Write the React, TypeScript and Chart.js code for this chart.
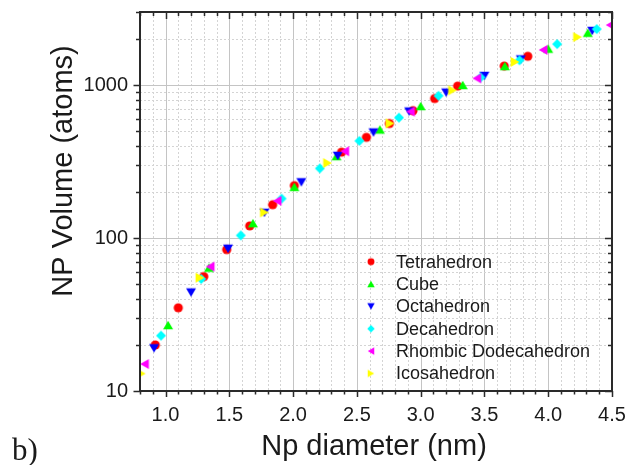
import React, { useEffect, useRef } from 'react';
import { Chart, registerables } from 'chart.js';

Chart.register(...registerables);

// ---- data ----
const seriesNames = ['Tetrahedron', 'Cube', 'Octahedron', 'Decahedron', 'Rhombic Dodecahedron', 'Icosahedron'];
const seriesColors = ['#ff0000', '#00ff00', '#0000ff', '#00ffff', '#ff00ff', '#ffff00'];
const seriesShapes = ['circle', 'up', 'down', 'diamond', 'left', 'right'];

const tetraX = [0.92, 1.10, 1.30, 1.48, 1.66, 1.84, 2.01, 2.38, 2.575, 2.755, 2.94, 3.11, 3.29, 3.655, 3.84];
const tetraY = [20, 35, 56, 84, 120, 165, 220, 364, 455, 560, 680, 816, 984, 1330, 1540];

const cubeX = [1.02, 1.34, 1.685, 2.01, 2.34, 2.68, 3.0, 3.33, 3.66, 4.0, 4.31];
const cubeY = [27, 64, 125, 216, 343, 512, 729, 1000, 1331, 1728, 2197];

const octaX = [0.91, 1.20, 1.49, 1.775, 2.065, 2.35, 2.63, 2.91, 3.20, 3.50, 3.785, 4.345];
const octaY = [19, 44, 85, 146, 231, 344, 489, 670, 891, 1146, 1469, 2255];

const decaX = [0.965, 1.28, 1.59, 1.91, 2.21, 2.52, 2.83, 3.14, 3.47, 3.775, 4.07, 4.38];
const decaY = [23, 54, 104, 181, 285, 431, 612, 850, 1120, 1450, 1850, 2320];

const rhombX = [0.835, 1.35, 1.875, 2.405, 2.92, 3.44, 3.96, 4.485];
const rhombY = [15, 65, 175, 369, 671, 1105, 1695, 2465];

const icoX = [0.81, 1.27, 1.775, 2.27, 2.76, 3.25, 3.74, 4.23];
const icoY = [13, 55, 147, 309, 561, 923, 1415, 2057];

const allX = [tetraX, cubeX, octaX, decaX, rhombX, icoX];
const allY = [tetraY, cubeY, octaY, decaY, rhombY, icoY];

const xTickValues = [1.0, 1.5, 2.0, 2.5, 3.0, 3.5, 4.0, 4.5];
const yTickValues = [10, 100, 1000];

const X_MIN = 0.8;
const X_MAX = 4.5;
const Y_MIN = 10;
const Y_MAX = 3000;

const FONT = '"Liberation Sans", Arial, sans-serif';
const TEXT = '#1a1a1a';

function makeMarker(shape: string, color: string, size: number): HTMLCanvasElement {
  const s = Math.ceil(size) + 2;
  const c = document.createElement('canvas');
  c.width = s;
  c.height = s;
  const ctx = c.getContext('2d')!;
  const cx = s / 2;
  const cy = s / 2;
  const r = size / 2;
  ctx.fillStyle = color;
  ctx.beginPath();
  if (shape === 'circle') {
    ctx.arc(cx, cy, r * 0.92, 0, Math.PI * 2);
  } else if (shape === 'diamond') {
    ctx.moveTo(cx, cy - r);
    ctx.lineTo(cx + r, cy);
    ctx.lineTo(cx, cy + r);
    ctx.lineTo(cx - r, cy);
  } else {
    const h = r * 0.87;
    if (shape === 'up') {
      ctx.moveTo(cx, cy - h);
      ctx.lineTo(cx + r, cy + h);
      ctx.lineTo(cx - r, cy + h);
    } else if (shape === 'down') {
      ctx.moveTo(cx, cy + h);
      ctx.lineTo(cx + r, cy - h);
      ctx.lineTo(cx - r, cy - h);
    } else if (shape === 'left') {
      ctx.moveTo(cx - h, cy);
      ctx.lineTo(cx + h, cy - r);
      ctx.lineTo(cx + h, cy + r);
    } else {
      ctx.moveTo(cx + h, cy);
      ctx.lineTo(cx - h, cy - r);
      ctx.lineTo(cx - h, cy + r);
    }
  }
  ctx.closePath();
  ctx.fill();
  return c;
}

export default function App() {
  const ref = useRef<HTMLCanvasElement | null>(null);

  useEffect(() => {
    document.body.style.margin = '0';
    const canvas = ref.current;
    if (!canvas) return;

    const markers = seriesShapes.map((sh, i) => makeMarker(sh, seriesColors[i], 10));
    const legendMarkers = seriesShapes.map((sh, i) => makeMarker(sh, seriesColors[i], 7.5));

    const framePlugin = {
      id: 'originFrame',
      beforeDatasetsDraw(chart: any) {
        const { ctx, chartArea } = chart;
        const xs = chart.scales.x;
        const ys = chart.scales.y;
        const { left, right, top, bottom } = chartArea;
        ctx.save();
        ctx.lineWidth = 1;
        for (let i = 8; i <= 45; i++) {
          const v = i / 10;
          if (i === 8 || i === 45) continue;
          const px = Math.round(xs.getPixelForValue(v)) + 0.5;
          ctx.beginPath();
          if (i % 5 === 0) {
            ctx.setLineDash([]);
            ctx.strokeStyle = '#c4c4c4';
          } else {
            ctx.setLineDash([2, 2]);
            ctx.strokeStyle = '#d4d4d4';
          }
          ctx.moveTo(px, top);
          ctx.lineTo(px, bottom);
          ctx.stroke();
        }
        for (const dec of [10, 100, 1000]) {
          for (let m = 1; m <= 9; m++) {
            const v = m * dec;
            if (v <= Y_MIN || v >= Y_MAX) continue;
            const py = Math.round(ys.getPixelForValue(v)) + 0.5;
            ctx.beginPath();
            if (m === 1) {
              ctx.setLineDash([]);
              ctx.strokeStyle = '#c4c4c4';
            } else {
              ctx.setLineDash([2, 2]);
              ctx.strokeStyle = '#d4d4d4';
            }
            ctx.moveTo(left, py);
            ctx.lineTo(right, py);
            ctx.stroke();
          }
        }
        ctx.restore();
      },
      afterDatasetsDraw(chart: any) {
        const { ctx, chartArea } = chart;
        const xs = chart.scales.x;
        const ys = chart.scales.y;
        const { left, right, top, bottom } = chartArea;
        ctx.save();
        ctx.setLineDash([]);
        ctx.strokeStyle = '#2a2a2a';
        ctx.lineWidth = 1.5;
        for (let i = 8; i <= 45; i++) {
          const v = i / 10;
          const major = i % 5 === 0;
          const px = Math.round(xs.getPixelForValue(v)) + 0.5;
          ctx.beginPath();
          ctx.moveTo(px, bottom);
          ctx.lineTo(px, bottom + (major ? 6 : 3.5));
          ctx.moveTo(px, top);
          ctx.lineTo(px, top + (major ? 7 : 4));
          ctx.stroke();
        }
        for (const dec of [10, 100, 1000]) {
          for (let m = 1; m <= 9; m++) {
            const v = m * dec;
            if (v > Y_MAX) continue;
            const major = m === 1;
            const py = Math.round(ys.getPixelForValue(v)) + 0.5;
            ctx.beginPath();
            ctx.moveTo(left, py);
            ctx.lineTo(left - (major ? 6.5 : 4), py);
            ctx.moveTo(right, py);
            ctx.lineTo(right - (major ? 7 : 4), py);
            ctx.stroke();
          }
        }
        ctx.lineWidth = 2;
        ctx.strokeRect(left, top, right - left, bottom - top);
        ctx.restore();
      },
      afterDraw(chart: any) {
        const { ctx } = chart;
        ctx.save();
        ctx.fillStyle = TEXT;
        ctx.font = `29px ${FONT}`;
        ctx.textAlign = 'center';
        ctx.textBaseline = 'alphabetic';
        ctx.fillText('Np diameter (nm)', 374, 455);
        ctx.save();
        ctx.translate(72, 171);
        ctx.rotate(-Math.PI / 2);
        ctx.fillText('NP Volume (atoms)', 0, 0);
        ctx.restore();
        ctx.font = '31px "Liberation Serif", "Times New Roman", serif';
        ctx.textAlign = 'left';
        ctx.fillText('b)', 12, 460);
        ctx.font = `18px ${FONT}`;
        ctx.textBaseline = 'middle';
        seriesNames.forEach((name, i) => {
          const y = 261.7 + i * 22.35;
          const m = legendMarkers[i];
          ctx.drawImage(m, 371 - m.width / 2, y - m.height / 2);
          ctx.fillStyle = TEXT;
          ctx.fillText(name, 396, y + 1);
        });
        ctx.restore();
      },
    };

    const zeroPad = (s: any) => {
      s.paddingTop = 0;
      s.paddingBottom = 0;
      s.paddingLeft = 0;
      s.paddingRight = 0;
    };

    const chart = new Chart(canvas, {
      type: 'scatter',
      data: {
        datasets: seriesNames.map((name, i) => ({
          label: name,
          data: allX[i].map((x, j) => ({ x, y: allY[i][j] })),
          pointStyle: markers[i] as any,
          pointRadius: 5,
          pointHoverRadius: 5,
          backgroundColor: seriesColors[i],
          borderColor: seriesColors[i],
          showLine: false,
          order: 10 - i,
        })),
      },
      options: {
        responsive: false,
        animation: false,
        devicePixelRatio: 1,
        events: [],
        layout: { padding: { left: 0, right: 16, top: 12, bottom: 0 } },
        plugins: {
          legend: { display: false },
          tooltip: { enabled: false },
        },
        scales: {
          x: {
            type: 'linear',
            min: X_MIN,
            max: X_MAX,
            grid: { display: false, drawTicks: false },
            border: { display: false },
            ticks: {
              padding: 12,
              color: TEXT,
              font: { family: FONT, size: 20 },
              maxRotation: 0,
              autoSkip: false,
              callback: (v: any) => Number(v).toFixed(1),
            },
            afterBuildTicks: (s: any) => {
              s.ticks = xTickValues.map((v) => ({ value: v }));
            },
            afterFit: (s: any) => {
              s.height = 74;
              zeroPad(s);
            },
          },
          y: {
            type: 'logarithmic',
            min: Y_MIN,
            max: Y_MAX,
            grid: { display: false, drawTicks: false },
            border: { display: false },
            ticks: {
              padding: 12,
              color: TEXT,
              font: { family: FONT, size: 20 },
              autoSkip: false,
              callback: (v: any) => String(v),
            },
            afterBuildTicks: (s: any) => {
              s.ticks = yTickValues.map((v) => ({ value: v }));
            },
            afterFit: (s: any) => {
              s.width = 140;
              zeroPad(s);
            },
          },
        },
      },
      plugins: [framePlugin],
    } as any);

    return () => {
      chart.destroy();
    };
  }, []);

  return (
    <div style={{ width: 628, height: 465, position: 'relative', background: '#fff' }}>
      <canvas ref={ref} width={628} height={465} style={{ display: 'block', width: 628, height: 465 }} />
    </div>
  );
}
